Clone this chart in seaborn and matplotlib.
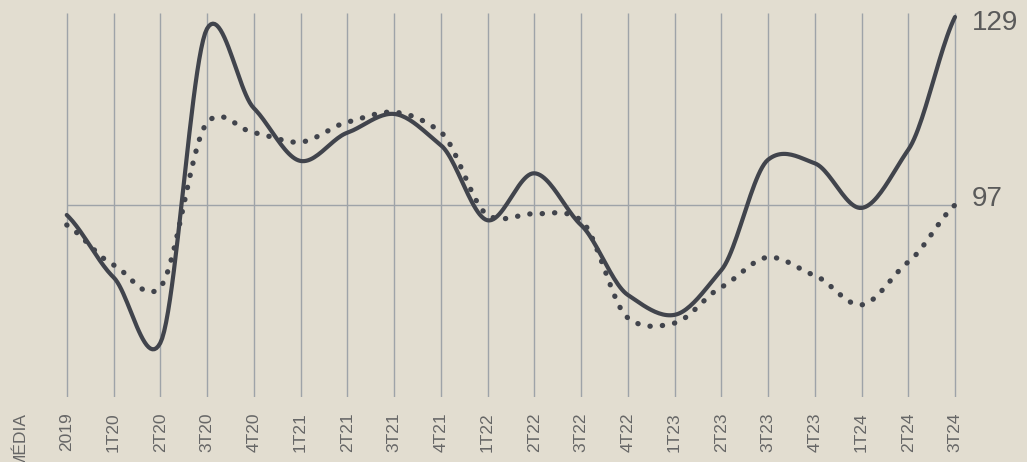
import numpy as np
import pandas as pd
import matplotlib
matplotlib.use("Agg")
import matplotlib.pyplot as plt
import seaborn as sns

# categorias do eixo x
categorias = ["MÉDIA", "2019", "1T20", "2T20", "3T20", "4T20", "1T21", "2T21", "3T21", "4T21",
              "1T22", "2T22", "3T22", "4T22", "1T23", "2T23", "3T23", "4T23", "1T24", "2T24", "3T24"]

# séries (a partir de 2019)
serie_solida = [95.3, 84.7, 73.5, 127.0, 113.5, 104.5, 109.3, 112.5, 107.2, 94.4,
                102.4, 93.6, 81.7, 78.3, 85.9, 104.7, 104.1, 96.5, 106.4, 129.0]
serie_pontilhada = [93.6, 86.8, 83.0, 111.0, 109.3, 107.7, 111.1, 112.8, 109.4, 95.3,
                    95.5, 94.4, 77.8, 76.9, 83.0, 88.1, 85.0, 80.0, 87.3, 97.0]

referencia = 97
rotulos_finais = ["129", "97"]

BG = "#e2ddd0"
LINHA = "#41444c"
GRADE = "#9ea3a8"
TEXTO = "#666666"


def suavizar(xs, ys, n=24, k=0.7):
    """spline cardinal simples so para desenhar a curva"""
    ys = np.asarray(ys, dtype=float)
    xs = np.asarray(xs, dtype=float)
    p = np.concatenate([[2 * ys[0] - ys[1]], ys, [2 * ys[-1] - ys[-2]]])
    ox, oy = [], []
    for i in range(len(ys) - 1):
        t = np.linspace(0, 1, n, endpoint=False)
        p0, p1, p2, p3 = p[i], p[i + 1], p[i + 2], p[i + 3]
        m1 = k * (p2 - p0) / 2
        m2 = k * (p3 - p1) / 2
        h00 = 2 * t**3 - 3 * t**2 + 1
        h10 = t**3 - 2 * t**2 + t
        h01 = -2 * t**3 + 3 * t**2
        h11 = t**3 - t**2
        oy.extend(h00 * p1 + h10 * m1 + h01 * p2 + h11 * m2)
        ox.extend(xs[i] + t * (xs[i + 1] - xs[i]))
    ox.append(xs[-1])
    oy.append(ys[-1])
    return np.array(ox), np.array(oy)


sns.set_theme(style="white", rc={"axes.facecolor": BG, "figure.facecolor": BG})
plt.rcParams["font.family"] = ["Liberation Sans", "DejaVu Sans"]

fig = plt.figure(figsize=(10.27, 4.62), dpi=100)
ax = fig.add_axes([0, 1 - 397 / 462, 1, 384 / 462])

pos = np.arange(len(categorias)) - 1  # MÉDIA em -1
xs_dados = pos[1:]

# grade vertical (sem MÉDIA) e linha de referência
ax.vlines(xs_dados, 0, 1, transform=ax.get_xaxis_transform(), color=GRADE, lw=1.0, zorder=1)
ax.hlines(referencia, xs_dados[0], xs_dados[-1], color=GRADE, lw=1.0, zorder=1)

sx, sy = suavizar(xs_dados, serie_solida)
px, py = suavizar(xs_dados, serie_pontilhada)
sns.lineplot(x=sx, y=sy, sort=False, ax=ax, color=LINHA, lw=3.0,
             solid_capstyle="round", zorder=3, clip_on=False)
sns.lineplot(x=px, y=py, sort=False, ax=ax, color=LINHA, lw=3.8,
             linestyle=(0, (0.05, 2.3)), dash_capstyle="round", zorder=3, clip_on=False)

ax.text(xs_dados[-1] + 0.36, serie_solida[-1] - 1.0, rotulos_finais[0], fontsize=20,
        color="#5a5a5a", va="center", ha="left")
ax.text(xs_dados[-1] + 0.36, serie_pontilhada[-1] + 1.0, rotulos_finais[1], fontsize=20,
        color="#5a5a5a", va="center", ha="left")

# escala: x 20 px -> -1, 955 px -> 19
px_por_cat = (955 - 20) / 20
ax.set_xlim(-1 - 20 / px_por_cat, -1 + (1027 - 20) / px_por_cat)
px_por_un = (205 - 17) / (129 - 97)
ax.set_ylim(97 - (397 - 205) / px_por_un, 97 + (205 - 13) / px_por_un)

ax.set_xticks(pos)
ax.set_xticklabels(categorias, rotation=90, fontsize=12.5, color=TEXTO)
ax.tick_params(axis="x", length=0, pad=11)
ax.set_yticks([])
for s in ax.spines.values():
    s.set_visible(False)

fig.savefig("out.png", dpi=100, facecolor=BG)
